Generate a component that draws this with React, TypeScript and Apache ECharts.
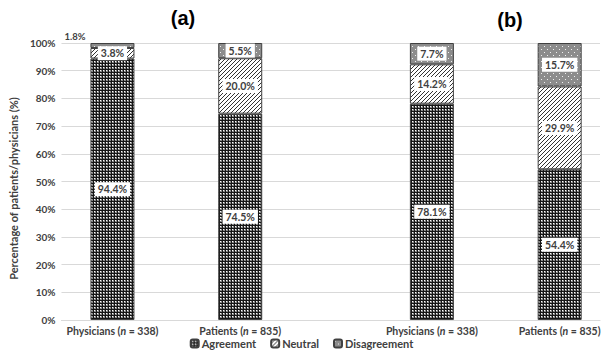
import React, { useEffect, useRef } from "react";
import * as echarts from "echarts";

const categories = ["Physicians|338", "Patients|835", "Physicians|338", "Patients|835"];
const slotOfCategory = [0, 2, 5, 7];
const slotCount = 8;
const agreement = [94.4, 74.5, 78.1, 54.4];
const neutral = [3.8, 20.0, 14.2, 29.9];
const disagreement = [1.8, 5.5, 7.7, 15.7];
const yTicks = [0, 10, 20, 30, 40, 50, 60, 70, 80, 90, 100];
const panelTitles = ["(a)", "(b)"];
const legendNames = ["Agreement", "Neutral", "Disagreement"];

const FONT = "Lato, 'Open Sans', sans-serif";
const TXT = "#404040";

function makePattern(kind: string): HTMLCanvasElement {
  const c = document.createElement("canvas");
  if (kind === "agree") {
    c.width = 3; c.height = 3;
    const g = c.getContext("2d")!;
    g.fillStyle = "#151515"; g.fillRect(0, 0, 3, 3);
    g.fillStyle = "#8a8a8a"; g.fillRect(1, 1, 2, 2);
    g.fillStyle = "#ffffff"; g.fillRect(1, 1, 1, 1);
  } else if (kind === "neutral") {
    c.width = 4; c.height = 4;
    const g = c.getContext("2d")!;
    g.fillStyle = "#ffffff"; g.fillRect(0, 0, 4, 4);
    g.fillStyle = "#333333";
    for (let i = 0; i < 4; i++) g.fillRect(i, 3 - i, 1, 1);
  } else {
    c.width = 6; c.height = 6;
    const g = c.getContext("2d")!;
    g.fillStyle = "#8c8c8c"; g.fillRect(0, 0, 6, 6);
    g.fillStyle = "#f0f0f0";
    g.fillRect(1, 1, 1, 1); g.fillRect(4, 4, 1, 1);
  }
  return c;
}

export default function App() {
  const ref = useRef<HTMLDivElement>(null);
  useEffect(() => {
    if (!ref.current) return;
    const chart = echarts.init(ref.current, undefined, { renderer: "svg" });
    const pats = {
      agree: { image: makePattern("agree"), repeat: "repeat" },
      neutral: { image: makePattern("neutral"), repeat: "repeat" },
      dis: { image: makePattern("dis"), repeat: "repeat" },
    };
    const slotLabels: string[] = [];
    for (let s = 0; s < slotCount; s++) {
      const idx = slotOfCategory.indexOf(s);
      slotLabels.push(idx >= 0 ? categories[idx] : "slot" + s);
    }
    const labelBase = {
      show: true,
      position: "inside",
      backgroundColor: "#ffffff",
      padding: [2, 3, 1, 3],
      color: TXT,
      fontWeight: "bold",
      fontSize: 10.5,
      fontFamily: FONT,
      formatter: (p: any) => (p.value == null ? "" : Number(p.value).toFixed(1) + "%"),
    };
    const mk = (name: string, vals: number[], color: any) => {
      const data: any[] = [];
      for (let s = 0; s < slotCount; s++) {
        const i = slotOfCategory.indexOf(s);
        if (i < 0) { data.push(null); continue; }
        if (name === "Disagreement" && i === 0) {
          data.push({
            value: vals[i],
            label: {
              position: [-26, -7],
              align: "left",
              verticalAlign: "middle",
              backgroundColor: "transparent",
              padding: 0,
              fontSize: 9.5,
            },
          });
        } else {
          data.push(vals[i]);
        }
      }
      return {
        name,
        type: "bar",
        stack: "s",
        xAxisIndex: 1,
        yAxisIndex: 1,
        barWidth: 44,
        itemStyle: { color, borderColor: "#404040", borderWidth: 1 },
        label: labelBase,
        data,
      };
    };
    const labelFor = (v: string) => {
      if (!v || v.startsWith("slot")) return "";
      const [who, n] = v.split("|");
      return `{b|${who} (}{i|n}{b| = ${n})}`;
    };
    chart.setOption({
      animation: false,
      title: [
        { text: panelTitles[0], left: 178, top: 3, textAlign: "center",
          textStyle: { fontSize: 20, fontWeight: "bold", fontFamily: "'Liberation Sans', Arial", color: "#000" } },
        { text: panelTitles[1], left: 505, top: 5, textAlign: "center",
          textStyle: { fontSize: 20, fontWeight: "bold", fontFamily: "'Liberation Sans', Arial", color: "#000" } },
      ],
      grid: [
        { left: 60, right: 3, top: 43, bottom: 39 },
        { left: 80.5, right: 2.5, top: 43, bottom: 39 },
      ],
      xAxis: [
        {
          gridIndex: 0,
          type: "value",
          min: 0,
          max: 1,
          splitLine: { show: false },
          axisTick: { show: false },
          axisLabel: { show: false },
          axisLine: { show: true, lineStyle: { color: "#d9d9d9", width: 1 } },
        },
        {
          gridIndex: 1,
          type: "category",
          data: slotLabels,
          axisTick: { show: false },
          axisLine: { show: false },
          axisLabel: {
            interval: 0,
            margin: 5,
            formatter: (v: string) => labelFor(v),
            rich: {
              b: { fontFamily: FONT, fontWeight: "bold", fontSize: 10.5, color: TXT },
              i: { fontFamily: FONT, fontWeight: "bold", fontStyle: "italic", fontSize: 10.5, color: TXT },
            },
          },
        },
      ],
      yAxis: [
        {
          gridIndex: 0,
          type: "value",
          min: 0,
          max: 100,
          interval: 10,
          name: "Percentage of patients/physicians (%)",
          nameLocation: "middle",
          nameGap: 36,
          nameTextStyle: { fontFamily: FONT, fontWeight: "bold", fontSize: 11, color: TXT, padding: [0, 14, 0, 0] },
          axisLine: { show: false },
          axisTick: { show: false },
          splitLine: { lineStyle: { color: "#d9d9d9", width: 1 } },
          axisLabel: {
            margin: 6,
            fontFamily: FONT, fontWeight: "bold", fontSize: 10, color: TXT,
            formatter: (v: number) => (yTicks.includes(v) ? v + "%" : ""),
          },
        },
        {
          gridIndex: 1,
          type: "value",
          min: 0,
          max: 100,
          show: false,
          splitLine: { show: false },
        },
      ],
      legend: {
        data: legendNames,
        bottom: 5,
        left: "center",
        itemWidth: 8,
        itemHeight: 8,
        itemGap: 14,
        textStyle: { fontFamily: FONT, fontWeight: "bold", fontSize: 11, color: TXT, padding: [0, 0, 0, -2] },
      },
      series: [
        mk(legendNames[0], agreement, pats.agree),
        mk(legendNames[1], neutral, pats.neutral),
        mk(legendNames[2], disagreement, pats.dis),
      ],
    });
    return () => chart.dispose();
  }, []);
  return <div ref={ref} style={{ position: "absolute", left: 0, top: 0, width: 603, height: 359 }} />;
}
